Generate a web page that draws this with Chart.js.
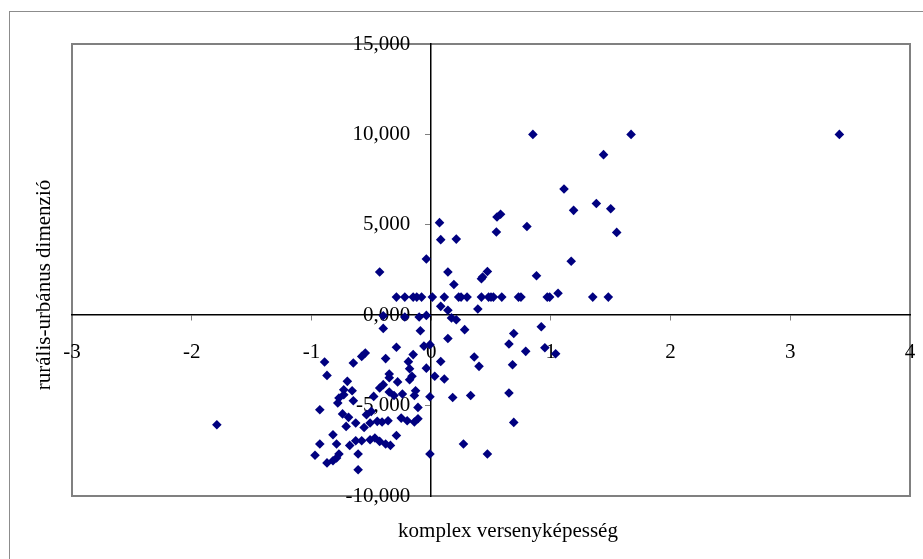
<!DOCTYPE html>
<html>
<head>
<meta charset="utf-8">
<title>komplex versenyképesség</title>
<script src="https://cdn.jsdelivr.net/npm/chart.js@4.4.0/dist/chart.umd.min.js"></script>
<style>
    html, body { margin: 0; padding: 0; background: #ffffff; }
    #scatter { display: block; }
</style>
</head>
<body>
<canvas id="scatter" width="923" height="559"></canvas>
<script>
// Competitiveness index (x) per settlement
const competitiveness = [
    3.41, 1.67, 0.85, 1.44, 1.11, 1.38, 1.50, 1.19, 1.55, 1.17,
    0.58, 0.55, 0.545, 0.80, 0.07, 0.08, 0.21, -0.04, -0.43, 0.14,
    0.19, 0.42, 0.43, 0.47, 0.88, 1.06,
    -0.29, -0.22, -0.15, -0.12, -0.08, 0.01, 0.11, 0.23, 0.25, 0.30,
    0.42, 0.48, 0.50, 0.52, 0.59, 0.73, 0.75, 0.97, 0.99, 1.35, 1.48,
    0.08, 0.14, 0.39, -0.40, -0.22, -0.10, -0.04, 0.17, 0.21,
    -0.40, -0.09, 0.14, 0.28, 0.92, 0.69, 0.65, 0.79, 0.95, 1.04,
    -0.29, -0.06, -0.01, 0.08, 0.36, 0.40, 0.68, -0.04, 0.03, 0.11,
    -0.01, 0.18, 0.33, 0.65, 0.69, 0.27, -0.01, 0.47, -1.79,
    -0.89, -0.87, -0.65, -0.58, -0.55, -0.70, -0.73, -0.66, -0.77, -0.73,
    -0.65, -0.78, -0.93,
    -0.38, -0.15, -0.19, -0.18, -0.35, -0.35, -0.16, -0.18, -0.28, -0.40,
    -0.43, -0.35, -0.31, -0.24, -0.48, -0.13, -0.14,
    -0.11, -0.50, -0.54,
    -0.51, -0.45, -0.41, -0.36, -0.25, -0.20, -0.14, -0.11,
    -0.29, -0.51, -0.47, -0.43, -0.38, -0.34,
    -0.74, -0.69, -0.63, -0.71, -0.56, -0.82, -0.93, -0.79, -0.68, -0.63,
    -0.58, -0.61, -0.97, -0.77, -0.79, -0.82, -0.87, -0.61
];

// Rural-urban dimension (y), same order as above
const ruralUrban = [
    10.0, 10.0, 10.0, 8.88, 6.98, 6.18, 5.89, 5.80, 4.58, 2.98,
    5.58, 5.43, 4.60, 4.91, 5.12, 4.18, 4.21, 3.11, 2.39, 2.39,
    1.70, 2.02, 2.11, 2.42, 2.18, 1.21,
    1.0, 1.0, 1.0, 1.0, 1.0, 1.0, 1.0, 1.0, 1.0, 1.0,
    1.0, 1.0, 1.0, 1.0, 1.0, 1.0, 1.0, 1.0, 1.0, 1.0, 1.0,
    0.49, 0.27, 0.34, -0.03, -0.10, -0.10, -0.01, -0.15, -0.25,
    -0.73, -0.86, -1.29, -0.80, -0.64, -1.01, -1.59, -2.00, -1.80, -2.13,
    -1.77, -1.71, -1.63, -2.56, -2.31, -2.83, -2.74, -2.93, -3.38, -3.53,
    -4.51, -4.55, -4.44, -4.30, -5.93, -7.12, -7.68, -7.68, -6.06,
    -2.59, -3.33, -2.64, -2.28, -2.09, -3.66, -4.12, -4.18, -4.58, -4.40,
    -4.73, -4.86, -5.23,
    -2.40, -2.18, -2.57, -2.96, -3.25, -3.46, -3.38, -3.57, -3.69, -3.84,
    -4.03, -4.25, -4.44, -4.36, -4.49, -4.18, -4.44,
    -5.10, -5.32, -5.50,
    -5.96, -5.87, -5.91, -5.84, -5.69, -5.84, -5.91, -5.73,
    -6.65, -6.89, -6.79, -6.98, -7.12, -7.20,
    -5.46, -5.65, -5.96, -6.15, -6.21, -6.61, -7.12, -7.12, -7.20, -6.94,
    -6.94, -7.68, -7.75, -7.68, -7.90, -8.05, -8.17, -8.55
];

// Axis ranges and tick steps
const xRange = [-3, 4];
const yRange = [-10, 15];
const xStep = 1;
const yStep = 5;

const xTitle = 'komplex versenyképesség';
const yTitle = 'rurális-urbánus dimenzió';

const SERIF = '"Liberation Serif", "Times New Roman", serif';
const FONT_SIZE = 21;

const points = competitiveness.map((x, i) => ({ x: x, y: ruralUrban[i] }));

// Outer frame, grey plot-area box and the two axis titles
const framePlugin = {
    id: 'frame',
    beforeDraw(chart) {
        const { ctx, chartArea } = chart;
        ctx.save();
        ctx.strokeStyle = '#8c8c8c';
        ctx.lineWidth = 1;
        ctx.strokeRect(9.5, 11.5, 960, 600);
        ctx.strokeStyle = '#808080';
        ctx.lineWidth = 2;
        ctx.strokeRect(chartArea.left, chartArea.top,
            chartArea.right - chartArea.left, chartArea.bottom - chartArea.top);
        ctx.restore();
    },
    afterDraw(chart) {
        const { ctx } = chart;
        ctx.save();
        ctx.fillStyle = '#000000';
        ctx.font = FONT_SIZE + 'px ' + SERIF;
        ctx.textAlign = 'center';
        ctx.textBaseline = 'middle';
        ctx.fillText(xTitle, 508, 531);
        ctx.translate(44, 285);
        ctx.rotate(-Math.PI / 2);
        ctx.fillText(yTitle, 0, 0);
        ctx.restore();
    }
};

// the plot box is fixed by layout.padding, not by edge label widths
function dropLabelPadding(scale) {
    scale.paddingLeft = 0;
    scale.paddingRight = 0;
    scale.paddingTop = 0;
    scale.paddingBottom = 0;
}

new Chart(document.getElementById('scatter'), {
    type: 'scatter',
    data: {
        datasets: [{
            data: points,
            pointStyle: 'rectRot',
            pointRadius: 4.8,
            pointHoverRadius: 4.8,
            backgroundColor: '#000080',
            borderColor: '#000080',
            borderWidth: 0
        }]
    },
    options: {
        responsive: false,
        animation: false,
        layout: {
            padding: { left: 72, top: 44, right: 13, bottom: 63 }
        },
        plugins: {
            legend: { display: false },
            tooltip: { enabled: false }
        },
        scales: {
            x: {
                type: 'linear',
                position: { y: 0 },
                min: xRange[0],
                max: xRange[1],
                afterFit: dropLabelPadding,
                grid: {
                    drawOnChartArea: false,
                    drawTicks: true,
                    tickLength: 5,
                    color: '#808080'
                },
                border: { display: true, color: '#000000', width: 1.5 },
                ticks: {
                    stepSize: xStep,
                    padding: 20,
                    color: '#000000',
                    font: { family: SERIF, size: FONT_SIZE },
                    maxRotation: 0,
                    autoSkip: false
                }
            },
            y: {
                type: 'linear',
                position: { x: 0 },
                min: yRange[0],
                max: yRange[1],
                afterFit: dropLabelPadding,
                grid: {
                    drawOnChartArea: false,
                    drawTicks: true,
                    tickLength: 5,
                    color: '#808080'
                },
                border: { display: true, color: '#000000', width: 1.5 },
                ticks: {
                    stepSize: yStep,
                    color: '#000000',
                    font: { family: SERIF, size: FONT_SIZE },
                    autoSkip: false,
                    // centred axes ignore ticks.padding, so trailing spaces keep the labels off the line
                    callback: value => value.toFixed(3).replace('.', ',') + '\u2002\u2002'
                }
            }
        }
    },
    plugins: [framePlugin]
});
</script>
</body>
</html>
